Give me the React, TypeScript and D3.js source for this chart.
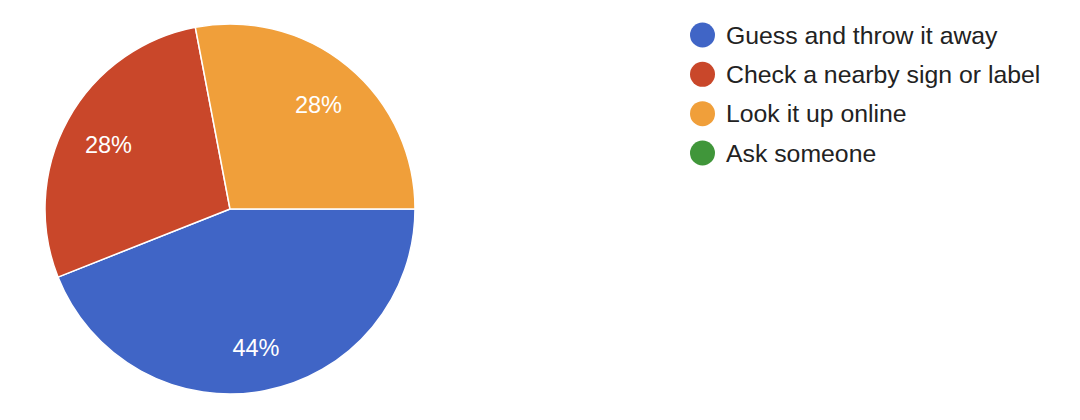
import React from "react";
import * as d3 from "d3";

// Survey answers and response counts
const categories = [
  "Guess and throw it away",
  "Check a nearby sign or label",
  "Look it up online",
  "Ask someone",
];
const counts = [11, 7, 7, 0];
const colors = ["#4065c6", "#c9472a", "#f09f3a", "#40963a"];

const WIDTH = 1080;
const HEIGHT = 420;
const CX = 230;
const CY = 209;
const R = 185;

export default function App() {
  const total = d3.sum(counts);
  const pie = d3
    .pie<number>()
    .sort(null)
    .startAngle(Math.PI / 2)
    .endAngle(Math.PI / 2 + 2 * Math.PI);
  const arcs = pie(counts);
  const arc = d3.arc<d3.PieArcDatum<number>>().innerRadius(0).outerRadius(R);
  const labelArc = d3
    .arc<d3.PieArcDatum<number>>()
    .innerRadius(R * 0.75)
    .outerRadius(R * 0.75);

  const legendY = d3
    .scalePoint<string>()
    .domain(categories)
    .range([35, 153]);

  const font = "'Liberation Sans', Arial, Helvetica, sans-serif";

  return (
    <svg
      width={WIDTH}
      height={HEIGHT}
      style={{ position: "absolute", left: 0, top: 0, background: "#fff" }}
    >
      <g transform={`translate(${CX},${CY})`}>
        {arcs.map((a, i) =>
          a.value > 0 ? (
            <path
              key={categories[i]}
              d={arc(a) ?? ""}
              fill={colors[i]}
              stroke="#fff"
              strokeWidth={1.5}
            />
          ) : null
        )}
        {arcs.map((a, i) => {
          if (a.value <= 0) return null;
          const [x, y] = labelArc.centroid(a);
          return (
            <text
              key={"l" + i}
              x={x}
              y={y + 11}
              textAnchor="middle"
              fill="#fff"
              fontFamily={font}
              fontSize={23.5}
            >
              {`${Math.round((a.value / total) * 100)}%`}
            </text>
          );
        })}
      </g>
      <g>
        {categories.map((c, i) => (
          <g key={c} transform={`translate(0,${legendY(c)})`}>
            <circle cx={702.5} cy={0} r={12.5} fill={colors[i]} />
            <text
              x={726}
              y={8.5}
              fill="#222"
              fontFamily={font}
              fontSize={24.8}
            >
              {c}
            </text>
          </g>
        ))}
      </g>
    </svg>
  );
}
